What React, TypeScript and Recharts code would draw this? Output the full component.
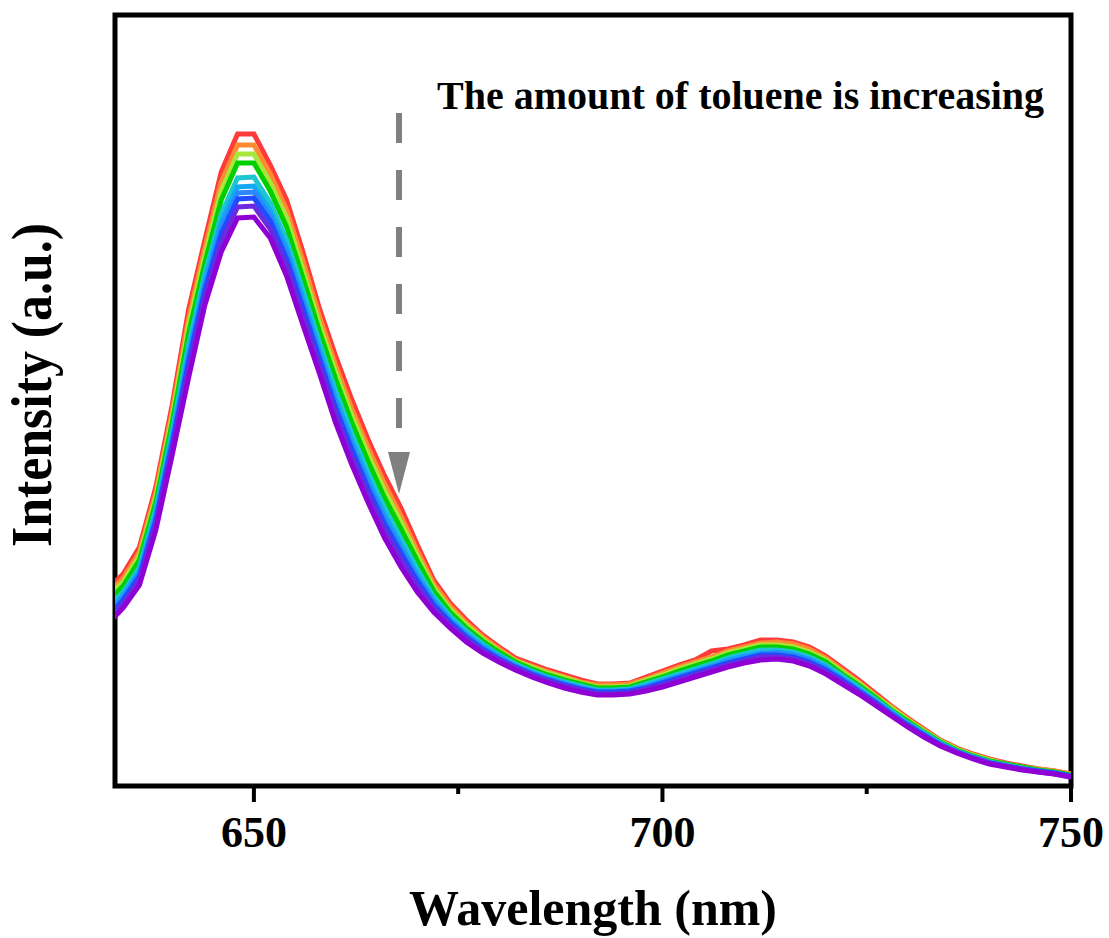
import { LineChart, Line, XAxis, YAxis, ReferenceArea, Label } from "recharts";

const FONT = "'Liberation Serif', 'Times New Roman', serif";

// wavelength (nm), sampled every 2 nm
const wavelengths = [
  632, 634, 636, 638, 640, 642, 644, 646, 648, 650,
  652, 654, 656, 658, 660, 662, 664, 666, 668, 670,
  672, 674, 676, 678, 680, 682, 684, 686, 688, 690,
  692, 694, 696, 698, 700, 702, 704, 706, 708, 710,
  712, 714, 716, 718, 720, 722, 724, 726, 728, 730,
  732, 734, 736, 738, 740, 742, 744, 746, 748, 750,
];

// intensity (a.u.), one spectrum per toluene amount
const s1 = [
  196, 212, 239, 299, 381, 476, 546, 614, 652, 652,
  621, 586, 534, 478, 430, 386, 346, 310, 278, 241,
  206, 183, 166, 151, 139, 128, 122, 116, 111, 106,
  102, 102, 103, 109, 115, 121, 126, 135, 137, 141,
  146, 146, 144, 139, 130, 118, 106, 93, 80, 68,
  57, 46, 38, 32, 27, 23, 20, 17, 15, 12,
];
const s2 = [
  191, 208, 234, 293, 374, 467, 538, 604, 641, 641,
  612, 576, 525, 470, 421, 377, 338, 302, 270, 235,
  202, 180, 163, 149, 137, 126, 120, 114, 109, 104,
  101, 101, 102, 107, 113, 119, 124, 129, 135, 139,
  143, 144, 142, 137, 128, 116, 104, 91, 79, 67,
  56, 45, 37, 31, 26, 22, 19, 17, 15, 12,
];
const s3 = [
  188, 204, 230, 289, 369, 460, 530, 595, 632, 632,
  603, 568, 516, 462, 414, 370, 331, 295, 264, 230,
  198, 177, 161, 147, 135, 125, 119, 113, 108, 103,
  99, 99, 100, 106, 111, 117, 122, 127, 133, 137,
  141, 141, 139, 134, 126, 114, 103, 90, 78, 66,
  55, 45, 37, 31, 26, 22, 19, 16, 14, 11,
];
const s4 = [
  184, 200, 226, 284, 363, 452, 523, 586, 623, 623,
  595, 559, 508, 455, 407, 363, 324, 288, 257, 225,
  195, 174, 158, 145, 134, 124, 117, 111, 106, 102,
  98, 98, 99, 104, 109, 115, 120, 125, 131, 135,
  139, 139, 137, 132, 124, 112, 101, 89, 76, 65,
  54, 44, 36, 30, 25, 22, 19, 16, 14, 11,
];
const s5 = [
  178, 194, 219, 277, 355, 441, 512, 572, 608, 609,
  583, 546, 496, 444, 395, 352, 313, 278, 247, 217,
  189, 170, 155, 142, 131, 122, 115, 109, 104, 100,
  96, 96, 97, 102, 107, 112, 117, 122, 128, 132,
  136, 136, 134, 129, 121, 110, 99, 87, 75, 63,
  53, 43, 35, 29, 24, 21, 18, 15, 13, 10,
];
const s6 = [
  174, 191, 215, 272, 349, 433, 505, 564, 599, 600,
  575, 538, 488, 437, 388, 345, 306, 271, 241, 211,
  186, 167, 152, 140, 130, 120, 114, 108, 103, 98,
  95, 95, 96, 100, 105, 110, 115, 120, 126, 130,
  133, 134, 132, 127, 119, 108, 97, 85, 74, 62,
  52, 42, 35, 29, 24, 20, 17, 15, 13, 10,
];
const s7 = [
  171, 188, 212, 269, 346, 428, 500, 558, 593, 594,
  570, 533, 483, 432, 383, 340, 302, 267, 237, 208,
  184, 165, 151, 138, 128, 120, 113, 107, 102, 98,
  94, 94, 95, 99, 104, 109, 114, 119, 124, 128,
  132, 133, 131, 126, 117, 107, 96, 85, 73, 62,
  51, 42, 34, 28, 23, 20, 17, 15, 13, 10,
];
const s8 = [
  169, 186, 210, 266, 342, 424, 496, 552, 587, 588,
  565, 527, 478, 428, 378, 336, 297, 262, 233, 205,
  181, 164, 149, 137, 127, 119, 112, 106, 101, 97,
  94, 94, 95, 98, 103, 108, 113, 118, 123, 127,
  131, 131, 129, 124, 116, 106, 95, 84, 72, 61,
  51, 41, 34, 28, 23, 20, 17, 15, 13, 10,
];
const s9 = [
  166, 182, 206, 262, 337, 417, 489, 544, 579, 580,
  557, 520, 470, 421, 372, 329, 291, 256, 227, 200,
  178, 161, 147, 135, 126, 118, 111, 105, 100, 96,
  92, 92, 93, 97, 101, 106, 111, 116, 121, 125,
  129, 129, 127, 122, 114, 104, 94, 83, 71, 60,
  50, 41, 34, 28, 23, 20, 17, 14, 12, 9,
];
const s10 = [
  161, 178, 201, 256, 331, 408, 481, 534, 568, 569,
  548, 510, 461, 413, 363, 321, 283, 248, 219, 194,
  174, 158, 144, 133, 124, 116, 109, 103, 98, 94,
  91, 91, 92, 95, 99, 104, 109, 114, 119, 123,
  126, 127, 125, 120, 112, 102, 92, 81, 70, 59,
  49, 40, 33, 27, 22, 19, 16, 14, 12, 9,
];

const spectra = [s1, s2, s3, s4, s5, s6, s7, s8, s9, s10];
const colors = [
  "#ff3a3a", "#ff8a30", "#a8e63c", "#00cf00", "#1ec6d0",
  "#12a8f2", "#2a88ff", "#1f4cff", "#6a2ae2", "#8e00d4",
];

const xTicks = [650, 675, 700, 725, 750];
const xTickLabels = ["650", "", "700", "", "750"];

const data = wavelengths.map((wl, i) => {
  const row: Record<string, number> = { wl };
  spectra.forEach((s, k) => {
    row["s" + (k + 1)] = s[i];
  });
  return row;
});

const WaveTick = ({ x, y, payload }: any) => {
  const idx = xTicks.indexOf(payload.value);
  const label = xTickLabels[idx];
  const major = label !== "";
  return (
    <g>
      <line x1={x} x2={x} y1={y} y2={y + (major ? 16 : 8)} stroke="#000" strokeWidth={4} />
      {major && (
        <text x={x} y={y + 61} textAnchor="middle" fontFamily={FONT} fontWeight="bold" fontSize={44} fill="#000">
          {label}
        </text>
      )}
    </g>
  );
};

export default function App() {
  return (
    <div style={{ position: "absolute", left: 0, top: 0, width: 1109, height: 938, background: "#fff" }}>
      <LineChart width={1109} height={938} data={data} margin={{ top: 15, right: 38, left: 115, bottom: 2 }}>
        <XAxis
          dataKey="wl"
          type="number"
          domain={[633, 750]}
          allowDataOverflow
          ticks={xTicks}
          interval={0}
          tick={<WaveTick />}
          tickLine={false}
          axisLine={false}
          tickSize={0}
          tickMargin={0}
          height={150}
        >
          <Label
            value="Wavelength (nm)"
            position="insideBottom"
            offset={11}
            fontFamily={FONT}
            fontWeight="bold"
            fontSize={50}
            fill="#000"
          />
        </XAxis>
        <YAxis hide type="number" domain={[0, 771]} allowDataOverflow />
        {spectra.map((_, k) => (
          <Line
            key={k}
            type="linear"
            dataKey={"s" + (k + 1)}
            stroke={colors[k]}
            strokeWidth={5}
            dot={false}
            activeDot={false}
            isAnimationActive={false}
          />
        ))}
        <ReferenceArea x1={633} x2={750} y1={0} y2={771} fill="none" fillOpacity={0} stroke="#000" strokeWidth={5} />
      </LineChart>
      <svg width={1109} height={938} style={{ position: "absolute", left: 0, top: 0, pointerEvents: "none" }}>
        <text
          transform="translate(51,385) rotate(-90)"
          textAnchor="middle"
          fontFamily={FONT}
          fontWeight="bold"
          fontSize={56}
          textLength={324}
          lengthAdjust="spacingAndGlyphs"
          fill="#000"
        >
          Intensity (a.u.)
        </text>
        <text x={437} y={109} fontFamily={FONT} fontWeight="bold" fontSize={40} fill="#000">
          The amount of toluene is increasing
        </text>
        <line x1={399} x2={399} y1={113} y2={455} stroke="#808080" strokeWidth={6} strokeDasharray="30 27" />
        <polygon points="388,452 410,452 399,494" fill="#808080" />
      </svg>
    </div>
  );
}
